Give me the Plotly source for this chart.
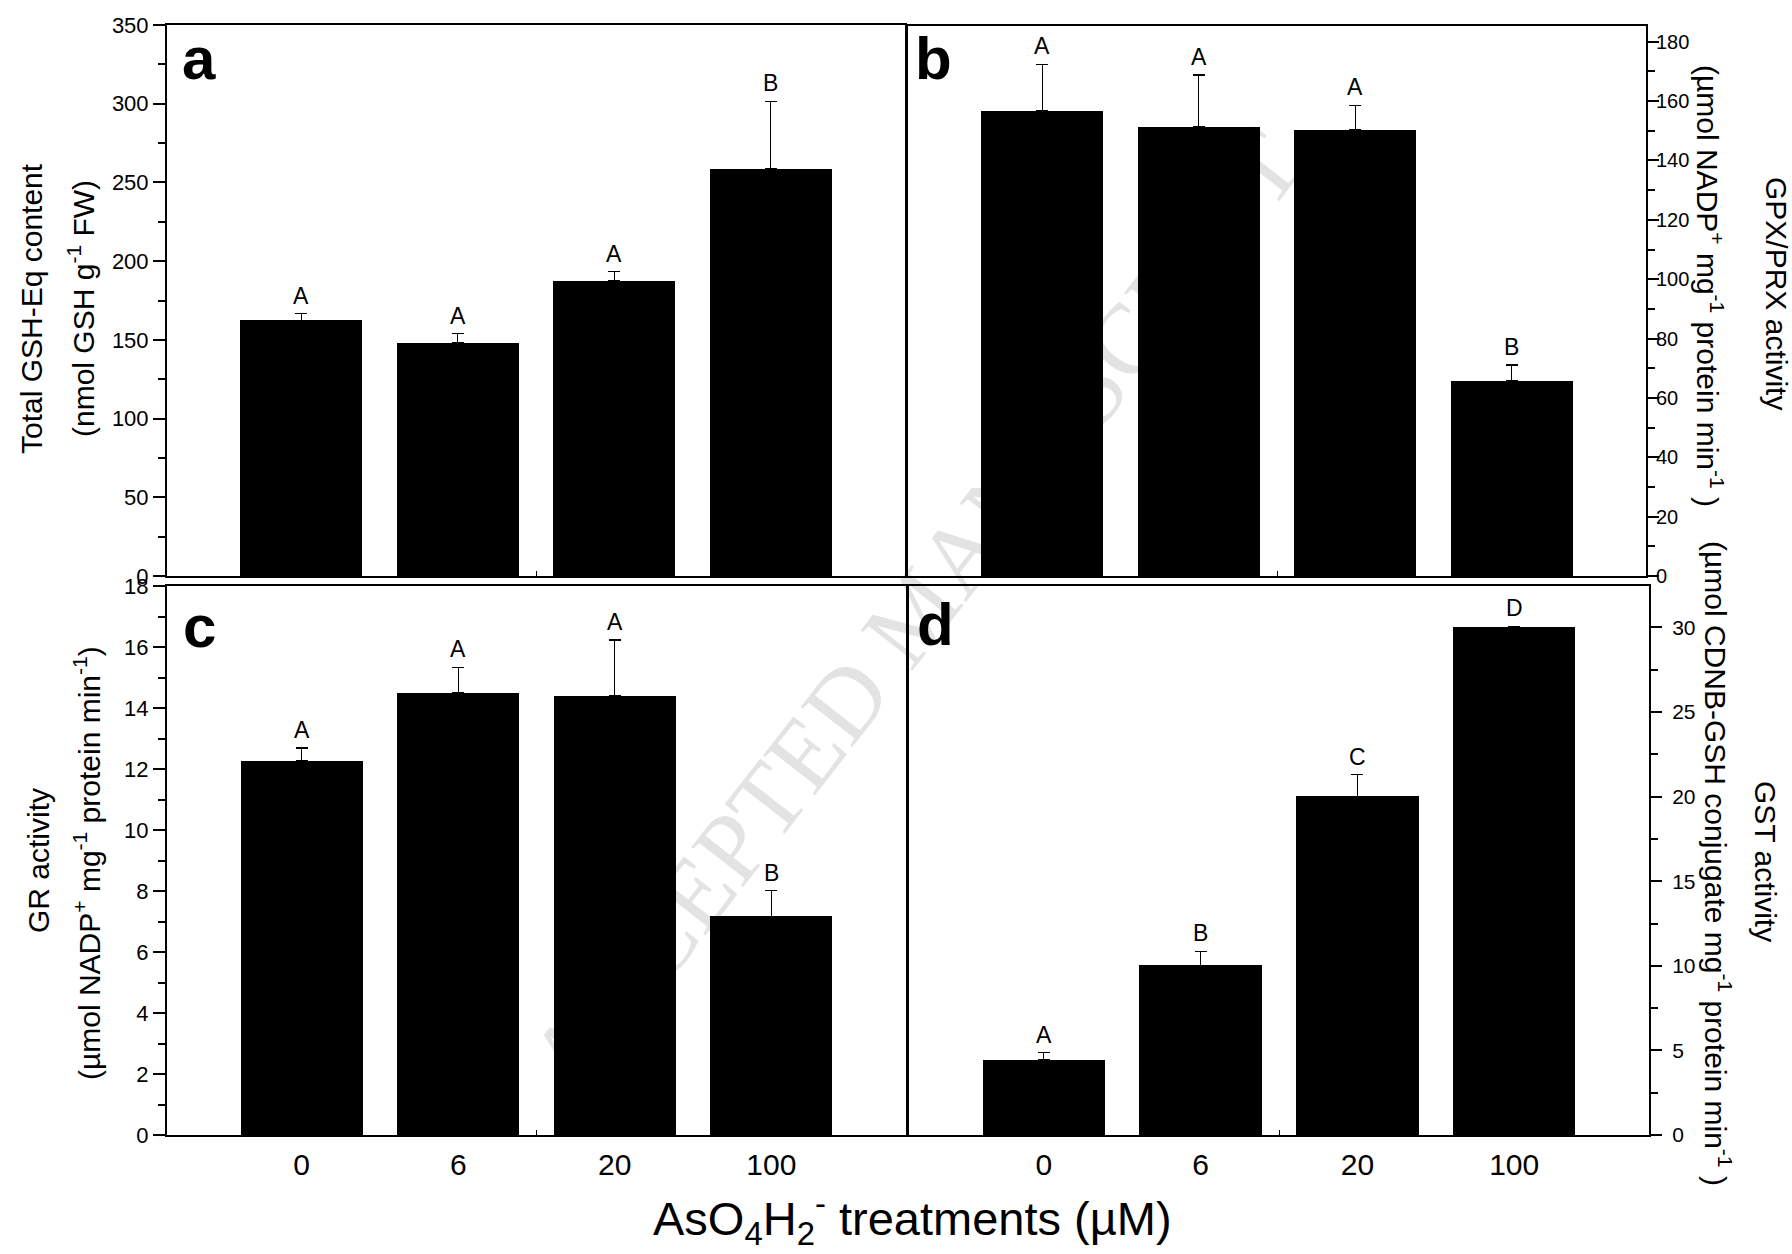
import plotly.graph_objects as go

# ---------------- data ----------------
categories = [0, 1, 2, 3]
tick_labels = ["0", "6", "20", "100"]

gsh_values = [162.3, 148.2, 187.7, 258.8]
gsh_errors = [4.2, 5.6, 5.6, 42.7]
gsh_letters = ["A", "A", "A", "B"]

gpx_values = [156.8, 151.3, 150.4, 65.7]
gpx_errors = [15.6, 17.5, 8.2, 5.4]
gpx_letters = ["A", "A", "A", "B"]

gr_values = [12.26, 14.50, 14.41, 7.17]
gr_errors = [0.43, 0.83, 1.82, 0.84]
gr_letters = ["A", "A", "A", "B"]

gst_values = [4.43, 10.04, 20.01, 30.0]
gst_errors = [0.44, 0.83, 1.29, 0.08]
gst_letters = ["A", "B", "C", "D"]

FONT = "Liberation Sans, Arial, sans-serif"
W, H = 1792, 1254


def px(x):
    return x / W


def py(y):
    return 1 - y / H


fig = go.Figure()

panels = [
    ("x", "y", gsh_values, gsh_errors, gsh_letters),
    ("x2", "y2", gpx_values, gpx_errors, gpx_letters),
    ("x3", "y3", gr_values, gr_errors, gr_letters),
    ("x4", "y4", gst_values, gst_errors, gst_letters),
]

annotations = []
for xa, ya, vals, errs, letters in panels:
    fig.add_trace(go.Bar(
        x=categories, y=vals, width=0.78,
        marker=dict(color="black", line=dict(width=0)),
        error_y=dict(type="data", array=errs, symmetric=False,
                     arrayminus=[0] * len(errs), color="black",
                     thickness=1.2, width=6),
        xaxis=xa, yaxis=ya, showlegend=False, hoverinfo="skip",
    ))
    for c, v, e, l in zip(categories, vals, errs, letters):
        annotations.append(dict(
            x=c, y=v + e, xref=xa, yref=ya, text=l, showarrow=False,
            yanchor="bottom", yshift=3,
            font=dict(family=FONT, size=23, color="black")))

xrange = [-0.86, 3.86]
common_x = dict(range=xrange, showline=True, linecolor="black", linewidth=2,
                mirror=True, ticks="", showgrid=False, zeroline=False,
                automargin=False,
                tickvals=categories, ticktext=tick_labels,
                tickfont=dict(family=FONT, size=30, color="black"),
                ticklabelstandoff=2,
                minor=dict(tickvals=[1.5], ticks="inside", ticklen=5,
                           tickwidth=1, tickcolor="black"))

common_y = dict(showline=True, linecolor="black", linewidth=2, mirror=True,
                ticks="outside", ticklen=12, tickwidth=2, tickcolor="black",
                showgrid=False, zeroline=False, automargin=False)

dom_a_x = [px(167), px(905)]
dom_b_x = [px(908), px(1646)]
dom_c_x = [px(167), px(906)]
dom_d_x = [px(909), px(1649)]
dom_top_y = [py(576), py(25)]
dom_bot_y = [py(1135), py(586)]

fig.update_layout(
    width=W, height=H, autosize=False,
    margin=dict(l=0, r=0, t=0, b=0, pad=0, autoexpand=False),
    paper_bgcolor="white", plot_bgcolor="rgba(0,0,0,0)",
    bargap=0, showlegend=False,
    xaxis=dict(common_x, domain=dom_a_x, anchor="y", showticklabels=False),
    xaxis2=dict(common_x, domain=dom_b_x, anchor="y2", showticklabels=False),
    xaxis3=dict(common_x, domain=dom_c_x, anchor="y3", showticklabels=True),
    xaxis4=dict(common_x, domain=dom_d_x, anchor="y4", showticklabels=True),
    yaxis=dict(common_y, domain=dom_top_y, anchor="x", range=[0, 350],
               tick0=0, dtick=50,
               minor=dict(dtick=25, ticks="outside", ticklen=7, tickwidth=2,
                          tickcolor="black"),
               tickfont=dict(family=FONT, size=22, color="black")),
    yaxis2=dict(common_y, domain=[py(576), py(26)], anchor="x2",
                side="right", range=[0, 185.3], tick0=0, dtick=20,
                ticklen=11, ticklabelstandoff=-7,
                minor=dict(dtick=10, ticks="outside", ticklen=7, tickwidth=2,
                           tickcolor="black"),
                tickfont=dict(family=FONT, size=20, color="black")),
    yaxis3=dict(common_y, domain=dom_bot_y, anchor="x3", range=[0, 18],
                tick0=0, dtick=2,
                minor=dict(dtick=1, ticks="outside", ticklen=7, tickwidth=2,
                           tickcolor="black"),
                tickfont=dict(family=FONT, size=22, color="black")),
    yaxis4=dict(common_y, domain=dom_bot_y, anchor="x4", side="right",
                range=[0, 32.45], tick0=0, dtick=5, ticklen=11,
                ticklabelstandoff=6,
                minor=dict(dtick=2.5, ticks="outside", ticklen=7, tickwidth=2,
                           tickcolor="black"),
                tickfont=dict(family=FONT, size=21, color="black")),
)

# panel letters
for txt, x, y in [("a", 180, 23), ("b", 913, 23), ("c", 181, 591), ("d", 915, 589)]:
    annotations.append(dict(x=px(x), y=py(y), xref="paper", yref="paper",
                            text="<b>%s</b>" % txt, showarrow=False,
                            xanchor="left", yanchor="top",
                            font=dict(family=FONT, size=60, color="black")))

# axis titles
titles = [
    ("Total GSH-Eq content", 31, 309, -90),
    ("(nmol GSH g<sup>-1</sup> FW)", 81, 309, -90),
    ("GR activity", 38, 861, -90),
    ("(µmol NADP<sup>+</sup> mg<sup>-1</sup> protein min<sup>-1</sup>)", 87, 863, -90),
    ("GPX/PRX activity", 1777, 293, 90),
    ("(µmol NADP<sup>+</sup> mg<sup>-1</sup> protein min<sup>-1</sup> )", 1710, 286, 90),
    ("GST activity", 1766, 861, 90),
    ("(µmol CDNB-GSH conjugate mg<sup>-1</sup> protein min<sup>-1</sup> )", 1718, 863, 90),
]
for txt, x, y, ang in titles:
    annotations.append(dict(x=px(x), y=py(y), xref="paper", yref="paper",
                            text=txt, showarrow=False, textangle=ang,
                            xanchor="center", yanchor="middle",
                            font=dict(family=FONT, size=30, color="black")))

annotations.append(dict(
    x=px(912), y=py(1218), xref="paper", yref="paper",
    text="AsO<sub>4</sub>H<sub>2</sub><sup>-</sup> treatments (µM)",
    showarrow=False, xanchor="center", yanchor="middle",
    font=dict(family=FONT, size=47, color="black")))

fig.update_layout(annotations=annotations)

# watermark under the bars
fig.add_shape(type="rect", xref="paper", yref="paper",
              x0=px(900), x1=px(914), y0=py(612), y1=py(598),
              line=dict(width=0), fillcolor="rgba(0,0,0,0)", layer="below",
              label=dict(text="ACCEPTED MANUSCRIPT", textangle=-52,
                         textposition="middle center",
                         font=dict(family="Liberation Serif, serif", size=100,
                                   color="#e3e3e3")))

fig.write_html("out.html", config={"displayModeBar": False},
               post_script="document.body.style.margin='0';")
